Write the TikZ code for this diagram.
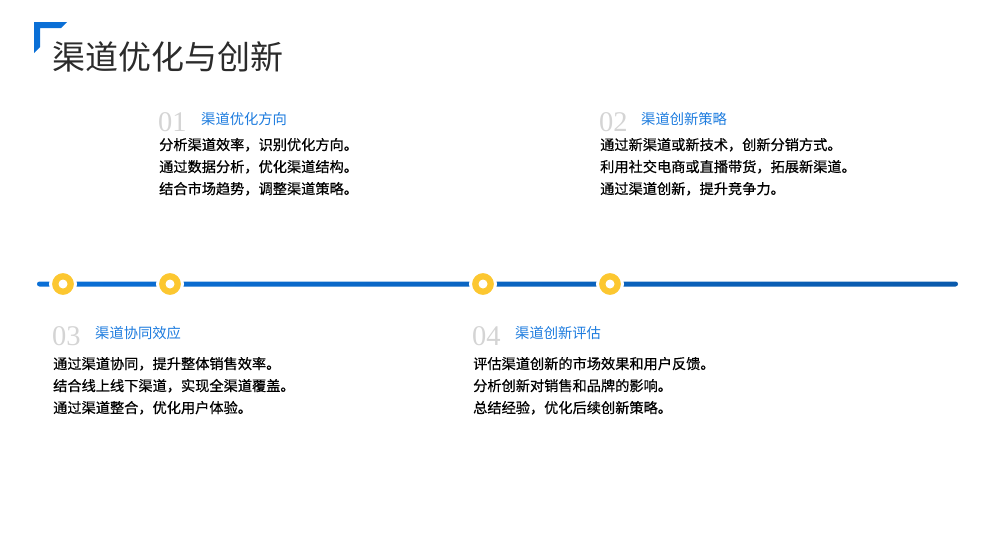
\documentclass[tikz,border=0pt]{standalone}
\usepackage{fontspec}
\setmainfont{Noto Sans CJK SC}
\newfontfamily\bodyfont{Noto Sans CJK SC}[FakeBold=0.6]
\newfontfamily\numfont{Liberation Serif}
\usetikzlibrary{positioning}

\definecolor{lineblue}{HTML}{0A6FD6}
\definecolor{linedark}{HTML}{0A5AAC}
\definecolor{headblue}{HTML}{1C7BDE}
\definecolor{dotyellow}{HTML}{FCC730}
\definecolor{numgray}{HTML}{D4D4D4}
\definecolor{titleink}{HTML}{2B2B2B}

\begin{document}
\begin{tikzpicture}[x=1pt,y=-1pt]
    % Timeline of four channel steps, numbered blocks above and below.

    \tikzset{
      num/.style={anchor=base west, inner sep=0, text=numgray, font=\numfont\fontsize{28.5}{28}\selectfont},
      head/.style={anchor=base west, inner sep=0, text=headblue, font=\fontsize{14.3}{14}\selectfont},
      body/.style={anchor=base west, inner sep=0, align=left, text=black, font=\bodyfont\fontsize{14.2}{22}\selectfont},
      dot/.style={circle, draw=white, line width=3pt, fill=dotyellow, minimum size=25pt, inner sep=0}
    }

    \useasboundingbox (0,0) rectangle (982,558);

    % --- title with corner mark
    \fill[lineblue] (34,22) -- (67,22) -- (61,28) -- (40,28) -- (40,47) -- (34,53) -- cycle;
    \node[anchor=base west, inner sep=0, text=titleink, font=\fontsize{33}{33}\selectfont] (title) at (52,69) {渠道优化与创新};

    % --- timeline
    \coordinate (start) at (37,284);
    \coordinate (end) at (958,284);
    \shade[left color=lineblue, right color=linedark, rounded corners=2.5pt] (37,281.5) rectangle (958,286.5);
    \foreach \x [count=\i] in {63,170,483,610} {
      \node[dot] (dot\i) at (\x,284) {};
      \fill[white] (dot\i) circle (4.5pt);
    }

    % --- block 1 (body anchored at its last line)
    \node[num] (n1) at (158,131) {01};
    \node[head] (h1) at (201,124.5) {渠道优化方向};
    \node[body] (b1) at (159,194) {分析渠道效率，识别优化方向。\\通过数据分析，优化渠道结构。\\结合市场趋势，调整渠道策略。};

    % --- block 2
    \node[num] (n2) at (599,131) {02};
    \node[head] (h2) at (641,124.5) {渠道创新策略};
    \node[body] (b2) at (600,194) {通过新渠道或新技术，创新分销方式。\\利用社交电商或直播带货，拓展新渠道。\\通过渠道创新，提升竞争力。};

    % --- block 3
    \node[num] (n3) at (52,345) {03};
    \node[head] (h3) at (95,338.5) {渠道协同效应};
    \node[body] (b3) at (53,413) {通过渠道协同，提升整体销售效率。\\结合线上线下渠道，实现全渠道覆盖。\\通过渠道整合，优化用户体验。};

    % --- block 4
    \node[num] (n4) at (472,345) {04};
    \node[head] (h4) at (515,338.5) {渠道创新评估};
    \node[body] (b4) at (473,413) {评估渠道创新的市场效果和用户反馈。\\分析创新对销售和品牌的影响。\\总结经验，优化后续创新策略。};
\end{tikzpicture}
\end{document}
